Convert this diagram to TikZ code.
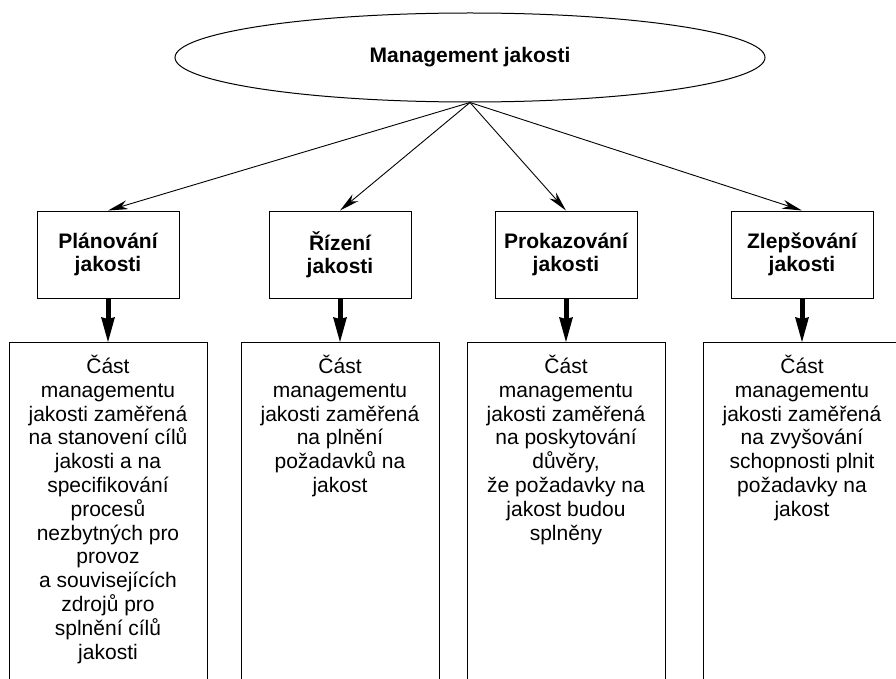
\documentclass[tikz,border=0pt]{standalone}
\usepackage{fontspec}
\setmainfont{Liberation Sans}
\usetikzlibrary{shapes.geometric,arrows.meta}
\begin{document}
\begin{tikzpicture}[x=1pt,y=-1pt,
  thinarrow/.style={line width=0.9pt,-{Stealth[length=20pt,width=9pt,inset=6pt,line width=0pt]}},
  thickarrow/.style={line width=5pt,-{Stealth[length=25pt,width=14pt,inset=2pt,line width=0pt]}},
  topbox/.style={draw,line width=1pt,minimum width=142pt,minimum height=87pt,inner sep=0pt,align=center,
    font=\fontsize{21pt}{23pt}\selectfont\bfseries,execute at begin node={\vphantom{Ř}}},
  lowbox/.style={draw,line width=1pt,minimum width=198pt,minimum height=420pt,anchor=north,inner sep=0pt},
  lowtext/.style={anchor=north,inner sep=0pt,align=center,
    font=\fontsize{21pt}{23.8pt}\selectfont}]
\path[use as bounding box] (0,0) rectangle (896,679);
\clip (0,0) rectangle (896,679);
\fill[white] (0,0) rectangle (896,679);

\node[draw,ellipse,line width=1pt,minimum width=590pt,minimum height=89pt,inner sep=0pt,
  font=\fontsize{21pt}{23pt}\selectfont\bfseries] (mj) at (470,57.5) {Management jakosti};

\node[topbox] (t1) at (108,254.5) {Plánování\\jakosti};
\node[topbox] (t2) at (340,254.5) {Řízení\\jakosti};
\node[topbox] (t3) at (566,254.5) {Prokazování\\jakosti};
\node[topbox] (t4) at (802,254.5) {Zlepšování\\jakosti};

\draw[thinarrow] (mj.south) -- (t1.north);
\draw[thinarrow] (mj.south) -- (t2.north);
\draw[thinarrow] (mj.south) -- (t3.north);
\draw[thinarrow] (mj.south) -- (t4.north);

\node[lowbox] (l1) at (108,342) {};
\node[lowbox] (l2) at (340,342) {};
\node[lowbox] (l3) at (566,342) {};
\node[lowbox] (l4) at (802,342) {};

\draw[thickarrow] (t1.south) -- (l1.north);
\draw[thickarrow] (t2.south) -- (l2.north);
\draw[thickarrow] (t3.south) -- (l3.north);
\draw[thickarrow] (t4.south) -- (l4.north);

\node[lowtext] (x1) at ([yshift=-13pt]l1.north) {Část\\managementu\\jakosti zaměřená\\na stanovení cílů\\jakosti a na\\specifikování\\procesů\\nezbytných pro\\provoz\\a souvisejících\\zdrojů pro\\splnění cílů\\jakosti};
\node[lowtext] (x2) at ([yshift=-13pt]l2.north) {Část\\managementu\\jakosti zaměřená\\na plnění\\požadavků na\\jakost};
\node[lowtext] (x3) at ([yshift=-13pt]l3.north) {Část\\managementu\\jakosti zaměřená\\na poskytování\\důvěry,\\že požadavky na\\jakost budou\\splněny};
\node[lowtext] (x4) at ([yshift=-13pt]l4.north) {Část\\managementu\\jakosti zaměřená\\na zvyšování\\schopnosti plnit\\požadavky na\\jakost};
\end{tikzpicture}
\end{document}
